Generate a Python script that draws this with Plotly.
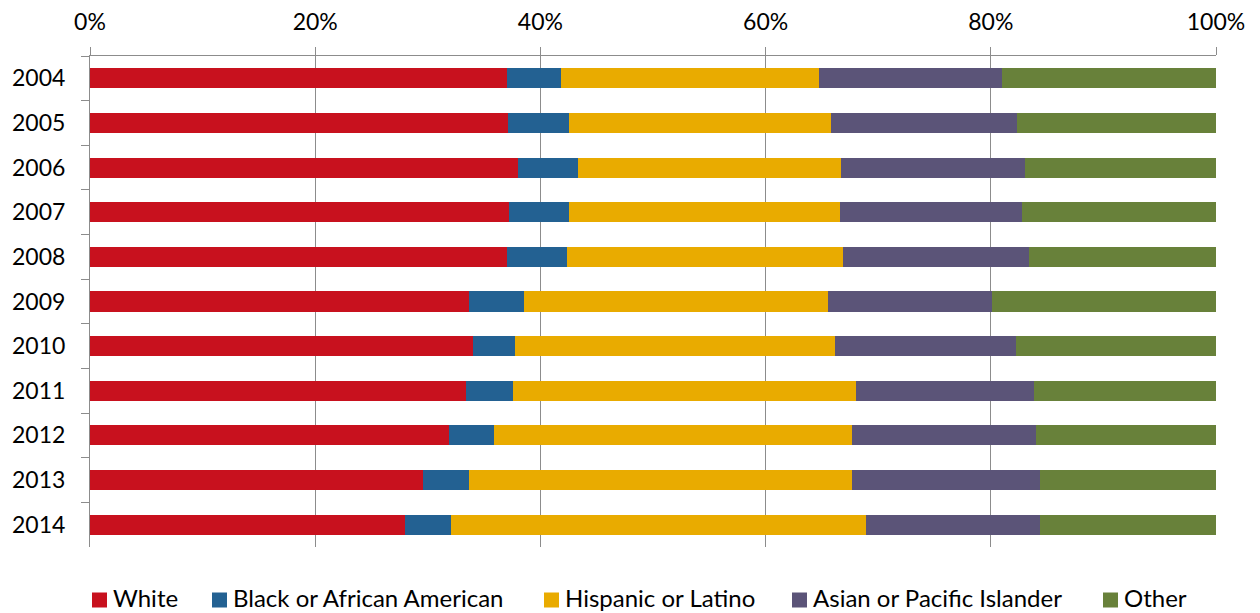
import plotly.graph_objects as go

# Share of each group per year (percent of total)
years = ["2004", "2005", "2006", "2007", "2008", "2009", "2010", "2011", "2012", "2013", "2014"]
white = [37.0, 37.1, 38.0, 37.2, 37.0, 33.7, 34.0, 33.4, 31.9, 29.6, 28.0]
black = [4.8, 5.4, 5.3, 5.3, 5.4, 4.8, 3.7, 4.2, 4.0, 4.1, 4.1]
hispanic = [22.9, 23.3, 23.4, 24.1, 24.5, 27.0, 28.5, 30.4, 31.8, 34.0, 36.8]
asian = [16.3, 16.5, 16.3, 16.2, 16.5, 14.6, 16.0, 15.8, 16.3, 16.7, 15.5]
other = [19.0, 17.7, 17.0, 17.2, 16.6, 19.9, 17.8, 16.2, 16.0, 15.6, 15.6]

pct_ticks = [0, 20, 40, 60, 80, 100]
pct_labels = ["0%", "20%", "40%", "60%", "80%", "100%"]

series = [
    ("White", white, "#C8111E"),
    ("Black or African American", black, "#236192"),
    ("Hispanic or Latino", hispanic, "#E9AB00"),
    ("Asian or Pacific Islander", asian, "#5B5478"),
    ("Other", other, "#68813A"),
]

FONT = "Lato"
FSIZE = 23
GRID = "#8C8C8C"

W, H = 1260, 613
M_L, M_R, M_T, M_B = 90, 44, 56, 66
PLOT_W = W - M_L - M_R
PLOT_H = H - M_T - M_B

fig = go.Figure()
for name, vals, color in series:
    fig.add_trace(go.Bar(
        name=name, y=years, x=vals, orientation="h",
        marker=dict(color=color, line=dict(width=0)),
        showlegend=False,
    ))

# Legend row below the plot: a colour square followed by its label
legend_left_px = [92, 212, 544, 792, 1103]
SQ = 15
legend_mid_px = 600


def px_x(px):
    return (px - M_L) / PLOT_W


def px_y(py):
    return (H - M_B - py) / PLOT_H


shapes = []
annotations = []
for (name, _, color), left in zip(series, legend_left_px):
    shapes.append(dict(
        type="rect", xref="paper", yref="paper",
        x0=px_x(left), x1=px_x(left + SQ),
        y0=px_y(legend_mid_px + SQ / 2), y1=px_y(legend_mid_px - SQ / 2),
        fillcolor=color, line=dict(width=0), layer="above",
    ))
    annotations.append(dict(
        text=name, xref="paper", yref="paper",
        x=px_x(left + SQ + 5), y=px_y(legend_mid_px - 3),
        xanchor="left", yanchor="middle", showarrow=False, borderpad=0,
        font=dict(family=FONT, size=24, color="black"),
    ))

fig.update_layout(
    width=W, height=H,
    barmode="stack", barnorm="percent", bargap=0.55,
    plot_bgcolor="white", paper_bgcolor="white",
    margin=dict(l=M_L, r=M_R, t=M_T, b=M_B, autoexpand=False),
    font=dict(family=FONT, size=FSIZE, color="black"),
    showlegend=False,
    shapes=shapes,
    annotations=annotations,
)

fig.update_xaxes(
    side="top", range=[0, 100], tickmode="array",
    tickvals=pct_ticks, ticktext=pct_labels,
    showgrid=True, gridcolor=GRID, gridwidth=1,
    showline=True, linecolor=GRID, linewidth=1,
    ticks="outside", ticklen=8, tickcolor=GRID,
    ticklabelstandoff=8, zeroline=False,
    tickfont=dict(family=FONT, size=FSIZE, color="black"),
)
fig.update_yaxes(
    type="category", autorange="reversed",
    showline=True, linecolor=GRID, linewidth=1,
    ticks="outside", ticklen=8, tickcolor=GRID, tickson="boundaries",
    showgrid=False, ticklabelstandoff=19,
    tickfont=dict(family=FONT, size=FSIZE, color="black"),
)

fig.write_html("out.html")
